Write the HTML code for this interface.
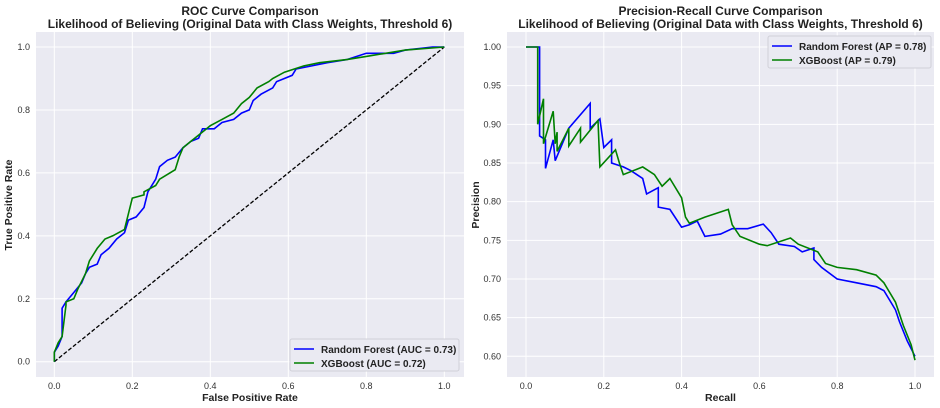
<!DOCTYPE html>
<html><head><meta charset="utf-8"><style>
body{margin:0;background:#fff;}
svg{display:block;font-family:"Liberation Sans",Arial,sans-serif;}
</style></head><body>
<svg id="c" width="940" height="408"></svg>
<script>
const rocRFx=[0,0,0.01,0.02,0.02,0.03,0.05,0.07,0.08,0.09,0.11,0.12,0.14,0.16,0.18,0.19,0.21,0.23,0.24,0.26,0.27,0.29,0.31,0.33,0.35,0.37,0.38,0.41,0.43,0.46,0.48,0.5,0.51,0.53,0.56,0.57,0.59,0.61,0.62,0.66,0.7,0.75,0.8,0.87,0.9,0.97,1];
const rocRFy=[0,0.03,0.05,0.08,0.17,0.19,0.22,0.25,0.28,0.3,0.31,0.34,0.36,0.39,0.41,0.45,0.46,0.49,0.54,0.58,0.62,0.64,0.65,0.68,0.7,0.71,0.74,0.74,0.76,0.77,0.79,0.8,0.83,0.85,0.87,0.89,0.9,0.91,0.93,0.94,0.95,0.96,0.98,0.98,0.99,1,1];
const rocXGx=[0,0,0.01,0.02,0.03,0.03,0.05,0.06,0.08,0.09,0.11,0.13,0.15,0.18,0.19,0.2,0.23,0.23,0.26,0.27,0.31,0.32,0.33,0.35,0.38,0.4,0.43,0.46,0.48,0.5,0.52,0.55,0.56,0.59,0.64,0.68,0.75,0.8,0.9,1];
const rocXGy=[0,0.03,0.06,0.08,0.18,0.19,0.2,0.23,0.28,0.32,0.36,0.39,0.4,0.42,0.47,0.52,0.53,0.54,0.56,0.58,0.61,0.65,0.68,0.7,0.73,0.75,0.77,0.79,0.82,0.84,0.87,0.89,0.9,0.92,0.94,0.95,0.96,0.97,0.99,1];
const prRFx=[0,0.035,0.035,0.05,0.05,0.07,0.075,0.11,0.165,0.165,0.19,0.2,0.22,0.22,0.25,0.27,0.3,0.31,0.34,0.34,0.37,0.4,0.42,0.44,0.46,0.5,0.53,0.57,0.61,0.63,0.65,0.69,0.71,0.74,0.74,0.76,0.8,0.85,0.9,0.92,0.95,0.96,0.98,1];
const prRFy=[1,1,0.885,0.88,0.843,0.88,0.853,0.895,0.927,0.895,0.907,0.87,0.88,0.85,0.845,0.84,0.83,0.81,0.818,0.793,0.79,0.767,0.77,0.775,0.755,0.758,0.765,0.765,0.771,0.76,0.745,0.742,0.735,0.74,0.725,0.715,0.7,0.695,0.69,0.685,0.66,0.645,0.62,0.6];
const prXGx=[0,0.03,0.03,0.045,0.045,0.07,0.075,0.08,0.08,0.11,0.11,0.14,0.14,0.185,0.19,0.23,0.24,0.25,0.3,0.33,0.35,0.37,0.4,0.41,0.42,0.46,0.52,0.53,0.55,0.6,0.62,0.68,0.7,0.75,0.77,0.8,0.85,0.9,0.92,0.95,0.97,0.99,1];
const prXGy=[1,1,0.9,0.933,0.875,0.917,0.875,0.89,0.865,0.895,0.872,0.895,0.877,0.905,0.845,0.867,0.85,0.835,0.845,0.835,0.82,0.83,0.805,0.78,0.772,0.78,0.79,0.77,0.755,0.745,0.743,0.753,0.745,0.735,0.72,0.715,0.712,0.705,0.695,0.67,0.64,0.615,0.595];
const rocXTicks=["0.0","0.2","0.4","0.6","0.8","1.0"];
const rocYTicks=["0.0","0.2","0.4","0.6","0.8","1.0"];
const prXTicks=["0.0","0.2","0.4","0.6","0.8","1.0"];
const prYTicks=["0.60","0.65","0.70","0.75","0.80","0.85","0.90","0.95","1.00"];

const svg=document.getElementById('c');
const NS="http://www.w3.org/2000/svg";
function mk(tag,attrs,parent){const e=document.createElementNS(NS,tag);for(const k in attrs)e.setAttribute(k,attrs[k]);(parent||svg).appendChild(e);return e;}
function txt(s,attrs,name){const t=mk('text',attrs);t.textContent=s;


return t;}

function panel(o){
  const g=mk('g',{});
  
  
  const bg=mk('rect',{x:o.bx0,y:32,width:o.bx1-o.bx0,height:345,fill:'#eaeaf2'},g);
  
  
  const sx=v=>o.x0+(v-o.xmin)/(o.xmax-o.xmin)*(o.x1-o.x0);
  const sy=v=>o.y0+(v-o.ymin)/(o.ymax-o.ymin)*(o.y1-o.y0);
  o.xt.forEach(s=>{const v=parseFloat(s);const X=sx(v);
    const l=mk('line',{x1:X,x2:X,y1:32,y2:377,stroke:'#fff','stroke-width':1},g);
    
    txt(s,{x:X,y:389,'font-size':9,fill:'#333','text-anchor':'middle'},'x-tick-label');});
  o.yt.forEach(s=>{const v=parseFloat(s);const Y=sy(v);
    const l=mk('line',{x1:o.bx0,x2:o.bx1,y1:Y,y2:Y,stroke:'#fff','stroke-width':1},g);
    
    txt(s,{x:o.bx0-6,y:Y+3,'font-size':9,fill:'#333','text-anchor':'end'},'y-tick-label');});
  if(o.diag){const d=mk('line',{x1:sx(0),y1:sy(0),x2:sx(1),y2:sy(1),stroke:'#000','stroke-width':1.3,'stroke-dasharray':'4,2'},g);
    }
  o.series.forEach(s=>{const p=s.xs.map((x,i)=>sx(x).toFixed(1)+','+sy(s.ys[i]).toFixed(1)).join(' ');
    const pl=mk('polyline',{points:p,fill:'none',stroke:s.color,'stroke-width':1.6},g);
    });
  // legend
  const lg=mk('g',{},g);
  
  const lr=mk('rect',{x:o.lx,y:o.ly,width:o.lw,height:32,fill:'#eaeaf2',stroke:'#d0d0d8',rx:2},lg);
  
  o.series.forEach((s,i)=>{const yy=o.ly+10+i*14;
    const ln=mk('line',{x1:o.lx+4,x2:o.lx+24,y1:yy,y2:yy,stroke:s.color,'stroke-width':1.6},lg);
    
    const t=mk('text',{x:o.lx+31,y:yy+4,'font-size':10,'font-weight':'bold',fill:'#222'},lg);t.textContent=s.label;
    });
  txt(o.t1,{x:(o.bx0+o.bx1)/2,y:15,'font-size':12,'font-weight':'bold',fill:'#222','text-anchor':'middle'},'chart-title');
  txt("Likelihood of Believing (Original Data with Class Weights, Threshold 6)",{x:(o.bx0+o.bx1)/2,y:28,'font-size':12,'font-weight':'bold',fill:'#222','text-anchor':'middle'},'chart-subtitle');
  txt(o.xl,{x:(o.bx0+o.bx1)/2,y:401,'font-size':10.5,'font-weight':'bold',fill:'#222','text-anchor':'middle'},'x-axis-title');
  txt(o.yl,{x:0,y:0,'font-size':10.5,'font-weight':'bold',fill:'#222','text-anchor':'middle',transform:`translate(${o.ylx},205) rotate(-90)`},'y-axis-title');
}
panel({name:'roc-panel',bx0:36,bx1:464,x0:54.3,x1:444.3,xmin:0,xmax:1,y0:361.7,y1:47,ymin:0,ymax:1,
 xt:rocXTicks,yt:rocYTicks,diag:true,lx:290,ly:339,lw:169,t1:"ROC Curve Comparison",xl:"False Positive Rate",yl:"True Positive Rate",ylx:12,
 series:[{xs:rocRFx,ys:rocRFy,color:'#0000ff',name:'rf-roc-line',label:'Random Forest (AUC = 0.73)'},{xs:rocXGx,ys:rocXGy,color:'#008000',name:'xgb-roc-line',label:'XGBoost (AUC = 0.72)'}]});
panel({name:'pr-panel',bx0:507,bx1:934,x0:526,x1:915,xmin:0,xmax:1,y0:356.3,y1:47,ymin:0.6,ymax:1,
 xt:prXTicks,yt:prYTicks,diag:false,lx:768,ly:36,lw:163,t1:"Precision-Recall Curve Comparison",xl:"Recall",yl:"Precision",ylx:479,
 series:[{xs:prRFx,ys:prRFy,color:'#0000ff',name:'rf-pr-line',label:'Random Forest (AP = 0.78)'},{xs:prXGx,ys:prXGy,color:'#008000',name:'xgb-pr-line',label:'XGBoost (AP = 0.79)'}]});
</script>
</body></html>
